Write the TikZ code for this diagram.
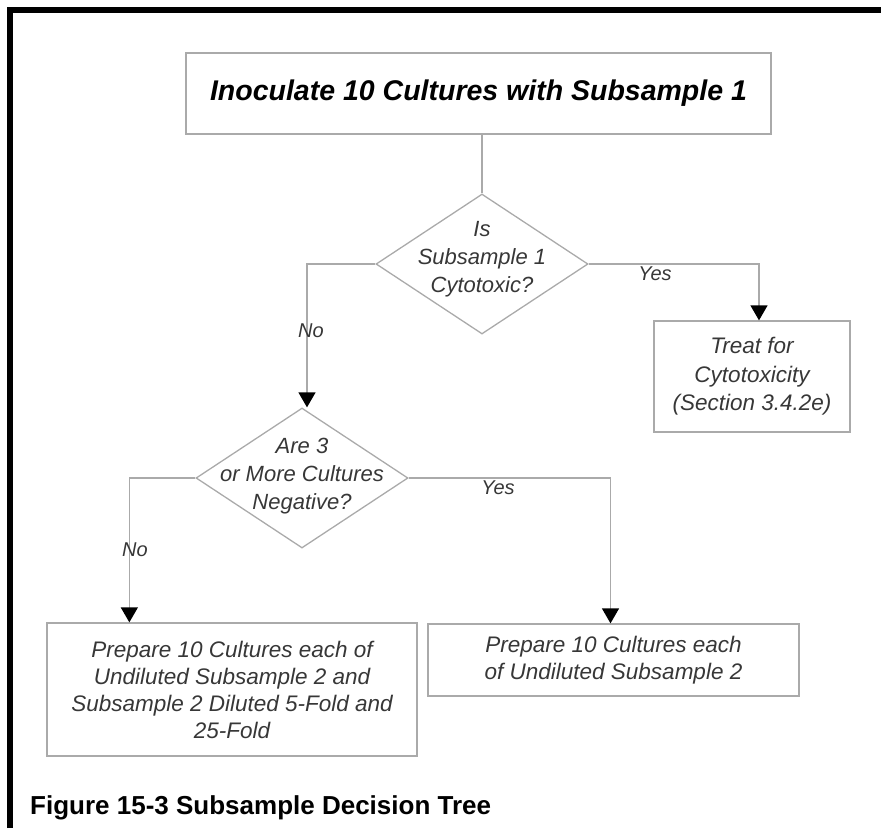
\documentclass[tikz,border=0pt]{standalone}
\usepackage{fontspec}
\setmainfont{Liberation Sans}
\usetikzlibrary{shapes.geometric,arrows.meta}
\definecolor{linegray}{RGB}{170,170,170}
\definecolor{textgray}{RGB}{55,55,55}
\tikzset{
  box/.style={draw=linegray,line width=1.3pt,align=center,inner sep=0pt,
    text=textgray,font=\fontsize{22.5}{27}\selectfont\itshape},
  decision/.style={diamond,draw=linegray,line width=1.3pt,inner sep=0pt,
    minimum width=212pt,minimum height=140pt},
  qtext/.style={align=center,text=textgray,font=\fontsize{22}{28}\selectfont\itshape},
  lbl/.style={text=textgray,inner sep=0pt,font=\fontsize{20}{24}\selectfont\itshape},
  flow/.style={draw=linegray,line width=1.3pt},
  flowarrow/.style={flow,-{Triangle[width=17pt,length=15pt,color=black]}}
}
\begin{document}
\begin{tikzpicture}[x=1pt,y=-1pt]
\useasboundingbox (0,0) rectangle (881,828);
% frame
\draw[line width=6pt,line join=miter] (10,828) -- (10,10) -- (881,10);
% boxes
\node[box,minimum width=585pt,minimum height=81pt,text=black,
  font=\fontsize{28.5}{34}\selectfont\bfseries\itshape] (start) at (478.5,93.5)
  {Inoculate 10 Cultures with Subsample 1};
\node[decision] (isCyto) at (482,264) {};
\node[qtext] (isCytoTxt) at ([yshift=5pt]isCyto.center) {Is\\Subsample 1\\Cytotoxic?};
\node[box,minimum width=196pt,minimum height=111pt,
  font=\fontsize{22.5}{28.5}\selectfont\itshape] (treat) at (752,376.5)
  {Treat for\\Cytotoxicity\\(Section 3.4.2e)};
\node[decision] (negQ) at (302,478) {};
\node[qtext] (negQTxt) at ([yshift=2pt]negQ.center) {Are 3\\or More Cultures\\Negative?};
\node[box,minimum width=370pt,minimum height=133pt] (prepMany) at (232,689.5)
  {Prepare 10 Cultures each of\\Undiluted Subsample 2 and\\Subsample 2 Diluted 5-Fold and\\25-Fold};
\node[box,minimum width=371pt,minimum height=72pt] (prepOne) at (613.5,660)
  {Prepare 10 Cultures each\\of Undiluted Subsample 2};
% connectors
\draw[flow] (isCyto.north |- start.south) -- (isCyto.north);
\draw[flowarrow] (isCyto.east) -| ([xshift=7pt]treat.north);
\draw[flowarrow] (isCyto.west) -| ([xshift=5pt]negQ.north);
\draw[flowarrow] (negQ.east) -| ([xshift=-3pt]prepOne.north);
\draw[flowarrow] (negQ.west) -| ([xshift=83pt]prepMany.north west);
% labels
\node[lbl] (yes1) at (655,274) {Yes};
\node[lbl] (no1) at (311,331) {No};
\node[lbl] (yes2) at (498,488) {Yes};
\node[lbl] (no2) at (135,550) {No};
% caption
\node[anchor=base west,inner sep=0pt,font=\fontsize{26}{30}\selectfont\bfseries]
  (caption) at (30,814) {Figure 15-3 Subsample Decision Tree};
\end{tikzpicture}
\end{document}
